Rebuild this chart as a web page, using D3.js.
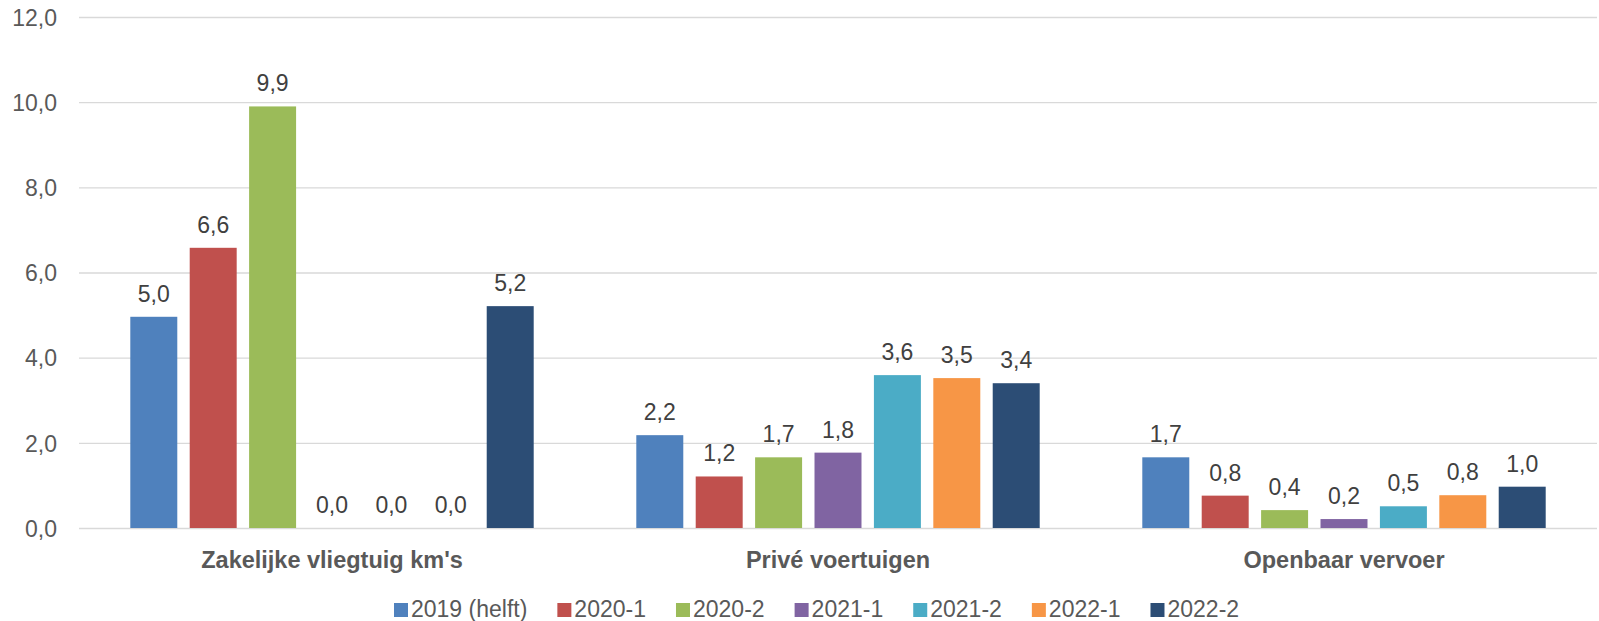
<!DOCTYPE html>
<html>
<head>
<meta charset="utf-8">
<script src="https://cdn.jsdelivr.net/npm/d3@7"></script>
<style>
    html, body { margin: 0; padding: 0; background: #ffffff; }
    svg { display: block; font-family: "Liberation Sans", Arial, sans-serif; }
    .grid line { stroke: #d9d9d9; stroke-width: 1.3; }
    .grid path { display: none; }
    .ylab text { fill: #595959; font-size: 23px; }
    .ylab path, .ylab line { display: none; }
    .cat text { fill: #595959; font-size: 23.5px; font-weight: bold; }
    .cat path, .cat line { display: none; }
    .vlabel { fill: #404040; font-size: 23px; }
    .legend text { fill: #595959; font-size: 23px; }
</style>
</head>
<body>
<div id="chart"></div>
<script>
/*
Data
*/
const categories = ["Zakelijke vliegtuig km's", "Privé voertuigen", "Openbaar vervoer"];
const series = ["2019 (helft)", "2020-1", "2020-2", "2021-1", "2021-2", "2022-1", "2022-2"];
const values_zakelijk = [4.96, 6.58, 9.9, 0, 0, 0, 5.21];
const values_prive = [2.18, 1.21, 1.66, 1.77, 3.59, 3.52, 3.40];
const values_openbaar = [1.66, 0.76, 0.42, 0.21, 0.51, 0.77, 0.97];
const y_ticks = [0, 2, 4, 6, 8, 10, 12];
const colors = ["#4f81bd", "#c0504d", "#9bbb59", "#8064a2", "#4bacc6", "#f79646", "#2c4d75"];

var table = categories.map((c, i) => {
    var vals = [values_zakelijk, values_prive, values_openbaar][i];
    return { cat: c, bars: series.map((s, j) => ({ s: s, v: vals[j] })) };
});

/*
Layout
*/
const width = 1599, height = 621;
const plot_left = 79, plot_right = 1597, plot_top = 17, plot_bottom = 528;

var svg = d3.select("#chart").append("svg")
    .attr("width", width)
    .attr("height", height);

var x0 = d3.scaleBand()
    .domain(categories)
    .range([plot_left, plot_right]);

// cluster of 7 bars sits in the middle of each category band
var cluster_w = 403.4;
var cluster_off = (x0.bandwidth() - cluster_w) / 2;
var x1 = d3.scaleBand()
    .domain(series)
    .range([cluster_off, cluster_off + cluster_w])
    .paddingInner(0.209);

var y = d3.scaleLinear()
    .domain([0, 12])
    .range([plot_bottom, plot_top]);

const fmt = v => d3.format(".1f")(v).replace(".", ",");

/*
Gridlines and axes
*/
svg.append("g")
    .attr("class", "grid")
    .attr("transform", `translate(${plot_left},0)`)
    .call(d3.axisLeft(y).tickValues(y_ticks).tickSize(-(plot_right - plot_left)).tickFormat(""));

svg.append("g")
    .attr("class", "ylab")
    .attr("transform", `translate(${plot_left - 22},0)`)
    .call(d3.axisLeft(y).tickValues(y_ticks).tickSize(0).tickPadding(0).tickFormat(fmt))
    .selectAll("text")
    .attr("dy", "0.36em");

svg.append("g")
    .attr("class", "cat")
    .attr("transform", `translate(0,${plot_bottom})`)
    .call(d3.axisBottom(x0).tickSize(0).tickPadding(0))
    .selectAll("text")
    .attr("dy", 0)
    .attr("y", 40);

/*
Bars and labels
*/
var groups = svg.append("g").selectAll("g")
    .data(table)
    .enter().append("g")
    .attr("transform", d => `translate(${x0(d.cat)},0)`);

groups.selectAll("rect")
    .data(d => d.bars)
    .enter().append("rect")
    .attr("x", d => x1(d.s))
    .attr("y", d => y(d.v))
    .attr("width", x1.bandwidth())
    .attr("height", d => y(0) - y(d.v))
    .attr("fill", (d, i) => colors[i]);

groups.selectAll("text")
    .data(d => d.bars)
    .enter().append("text")
    .attr("class", "vlabel")
    .attr("text-anchor", "middle")
    .attr("x", d => x1(d.s) + x1.bandwidth() / 2)
    .attr("y", d => y(d.v) - 15)
    .text(d => fmt(d.v));

/*
Legend
*/
var legend = svg.append("g").attr("class", "legend");
var lx = 394;
series.forEach((s, i) => {
    legend.append("rect")
        .attr("x", lx)
        .attr("y", 603)
        .attr("width", 14)
        .attr("height", 14)
        .attr("fill", colors[i]);
    var t = legend.append("text")
        .attr("x", lx + 17)
        .attr("y", 617)
        .text(s);
    lx += 17 + t.node().getComputedTextLength() + 30;
});
</script>
</body>
</html>
